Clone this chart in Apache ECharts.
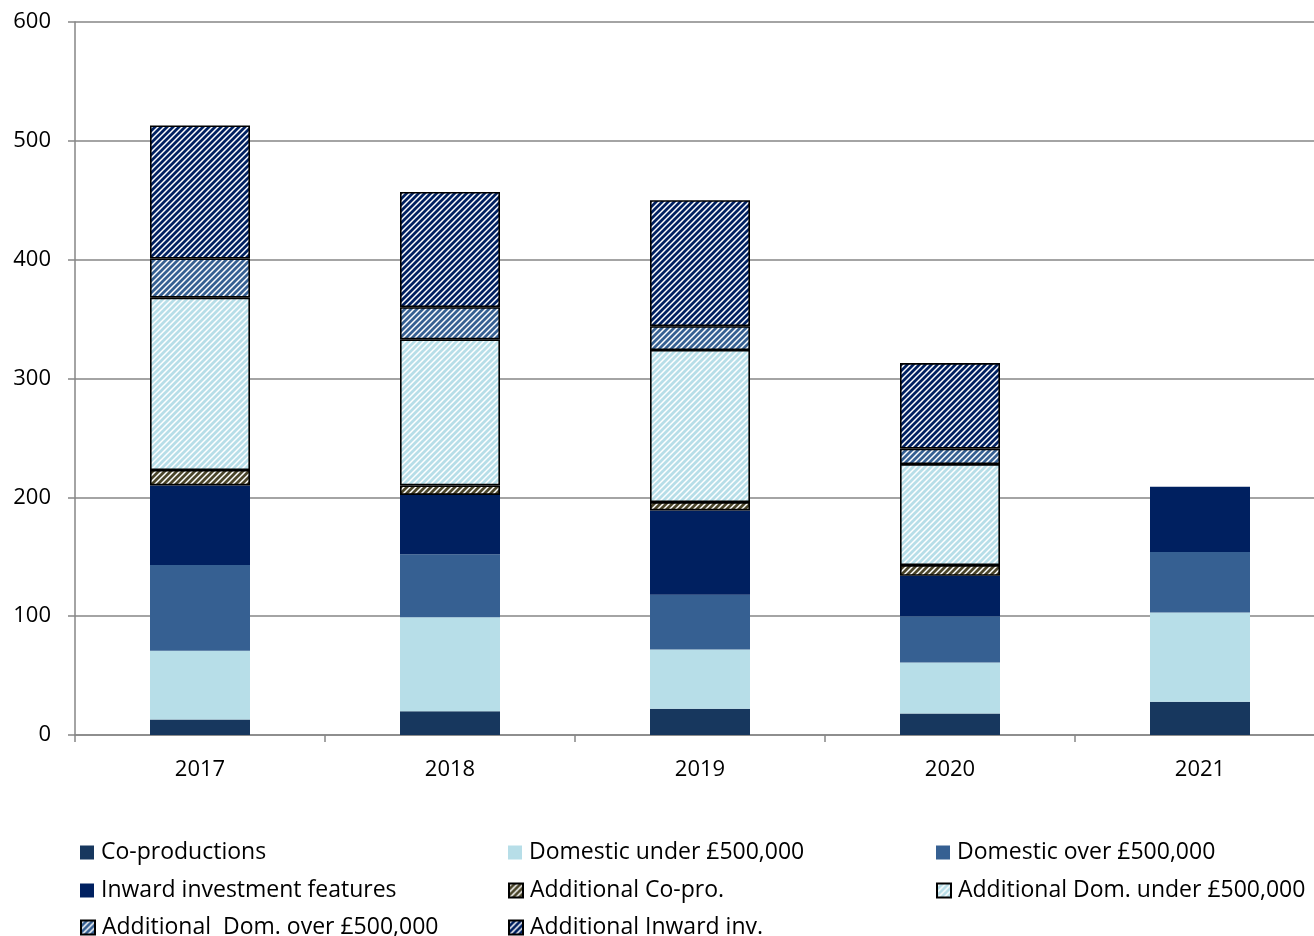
<!DOCTYPE html>
<html>
<head>
<meta charset="utf-8">
<script src="https://cdn.jsdelivr.net/npm/echarts@6/dist/echarts.min.js"></script>
<style>
html,body{margin:0;padding:0;background:#fff;overflow:hidden;}
#main{width:1325px;height:936px;}
</style>
</head>
<body>
<div id="main"></div>
<script>
const years = ['2017', '2018', '2019', '2020', '2021'];
const yTicks = [0, 100, 200, 300, 400, 500, 600];
const coProductions = [13, 20, 22, 18, 28];
const domesticUnder = [58, 79, 50, 43, 75];
const domesticOver = [72, 53, 46, 39, 51];
const inwardInvestment = [67, 50, 71, 34, 55];
const additionalCoPro = [13, 8, 7, 9, null];
const additionalDomUnder = [145, 123, 128, 85, null];
const additionalDomOver = [33, 27, 20, 13, null];
const additionalInward = [112, 97, 106, 72, null];

const seriesNames = [
  'Co-productions', 'Domestic under £500,000', 'Domestic over £500,000',
  'Inward investment features', 'Additional Co-pro.', 'Additional Dom. under £500,000',
  'Additional  Dom. over £500,000', 'Additional Inward inv.'
];

function stripes(color) {
  const s = 6;
  const c = document.createElement('canvas');
  c.width = s; c.height = s;
  const g = c.getContext('2d');
  g.fillStyle = '#ffffff';
  g.fillRect(0, 0, s, s);
  g.strokeStyle = color;
  g.lineWidth = 2.8;
  g.lineCap = 'square';
  for (let k = -1; k <= 1; k++) {
    g.beginPath();
    g.moveTo(k * s - 1, s + 1);
    g.lineTo(k * s + s + 1, -1);
    g.stroke();
  }
  return { image: c, repeat: 'repeat' };
}

const solid = (name, data, color) => ({
  name, type: 'bar', stack: 'total', barWidth: 100, data,
  itemStyle: { color }
});
const hatched = (name, data, color) => ({
  name, type: 'bar', stack: 'total', barWidth: 100, data,
  itemStyle: { color: stripes(color), borderColor: '#000', borderWidth: 1.6 }
});

const series = [
  solid(seriesNames[0], coProductions, '#17375E'),
  solid(seriesNames[1], domesticUnder, '#B7DEE8'),
  solid(seriesNames[2], domesticOver, '#366092'),
  solid(seriesNames[3], inwardInvestment, '#002060'),
  hatched(seriesNames[4], additionalCoPro, '#4A452A'),
  hatched(seriesNames[5], additionalDomUnder, '#B7DEE8'),
  hatched(seriesNames[6], additionalDomOver, '#366092'),
  hatched(seriesNames[7], additionalInward, '#002060')
];

const FONT = '"Open Sans", "Noto Sans", sans-serif';
const colLeft = [80, 508, 936];
const rowTop = [841, 879, 916];
const legendPos = [
  [0, 0], [1, 0], [2, 0],
  [0, 1], [1, 1], [2, 1],
  [0, 2], [1, 2]
];
const legends = [0, 1, 2, 3, 4, 5, 6, 7].map(i => ({
  left: colLeft[legendPos[i][0]], top: rowTop[legendPos[i][1]],
  itemWidth: 14, itemHeight: 14, itemGap: 0, icon: 'rect', padding: 0,
  textStyle: { fontFamily: FONT, fontSize: 23, color: '#000', lineHeight: 22, padding: [0, 0, 0, 2] },
  data: [seriesNames[i]]
}));

const chart = echarts.init(document.getElementById('main'), null, { renderer: 'canvas' });
chart.setOption({
  backgroundColor: '#fff',
  animation: false,
  grid: { left: 75, right: 0, top: 22, bottom: 201, containLabel: false },
  xAxis: {
    type: 'category', data: years,
    axisLine: { lineStyle: { color: '#868686', width: 1.5 } },
    axisTick: { show: true, length: 7, lineStyle: { color: '#868686', width: 1.5 } },
    axisLabel: { fontFamily: FONT, fontSize: 22, color: '#000', margin: 24 }
  },
  yAxis: {
    type: 'value', min: yTicks[0], max: yTicks[yTicks.length - 1], interval: 100,
    axisLine: { show: true, lineStyle: { color: '#868686', width: 1.5 } },
    axisTick: { show: true, length: 7, lineStyle: { color: '#868686', width: 1.5 } },
    axisLabel: { fontFamily: FONT, fontSize: 22, color: '#000', margin: 24 },
    splitLine: { lineStyle: { color: '#868686', width: 1.5 } }
  },
  legend: legends,
  series
});
</script>
</body>
</html>
